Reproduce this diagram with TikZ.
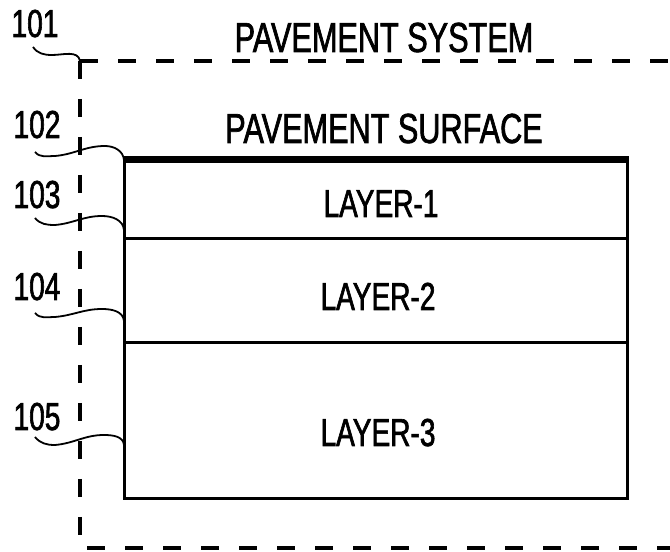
\documentclass[tikz,border=0pt]{standalone}
\usepackage{fontspec}
\setmainfont[FakeStretch=0.72,FakeBold=1.6]{Liberation Sans}
\newfontfamily\titlefont[FakeStretch=0.73,FakeBold=1.6]{Liberation Sans}
\begin{document}
\begin{tikzpicture}[x=1pt,y=1pt,
  lbl/.style={anchor=base,inner sep=0pt,font=\fontsize{39}{39}\selectfont},
  ttl/.style={anchor=base,inner sep=0pt,font=\titlefont\fontsize{42}{42}\selectfont},
  sysline/.style={line width=4pt,dash pattern=on 18pt off 20pt},
  boxline/.style={line width=3pt},
  leader/.style={line width=1.8pt}]
\useasboundingbox (0,0) rectangle (670,552);
% dashed system boundary
\coordinate (c1) at (80,491);
\coordinate (c2) at (672,491);
\coordinate (c3) at (80,4);
\coordinate (c4) at (672,4);
\draw[sysline] (c1) -- (c2);
\draw[sysline] (c1) -- (c3) -- (c4);
% layers box
\coordinate (bnw) at (124,392);
\coordinate (bne) at (627,392);
\coordinate (bsw) at (124,53);
\coordinate (bse) at (627,53);
\coordinate (d1w) at (124,313);
\coordinate (d1e) at (627,313);
\coordinate (d2w) at (124,209);
\coordinate (d2e) at (627,209);
\draw[boxline,line join=miter] (bnw) -- (bsw) -- (bse) -- (bne) -- cycle;
\draw[boxline] (d1w) -- (d1e);
\draw[boxline] (d2w) -- (d2e);
\draw[line width=7pt] ([xshift=-1.5pt]bnw) -- ([xshift=1.5pt]bne);
% texts
\node[ttl] (tsys) at (384,500) {PAVEMENT SYSTEM};
\node[ttl] (tsurf) at (384,409) {PAVEMENT SURFACE};
\node[lbl] (tl1) at (381,335) {LAYER-1};
\node[lbl] (tl2) at (378,242) {LAYER-2};
\node[lbl] (tl3) at (378,106) {LAYER-3};
\node[lbl] (n101) at (35,515) {101};
\node[lbl] (n102) at (37,414) {102};
\node[lbl] (n103) at (37,344) {103};
\node[lbl] (n104) at (37,252) {104};
\node[lbl] (n105) at (37,122) {105};
% leader lines
\coordinate (s101) at (33,505);
\coordinate (s102) at (35,400);
\coordinate (s103) at (35,334);
\coordinate (s104) at (35,239);
\coordinate (s105) at (35,115);
\coordinate (e103) at (124,322);
\coordinate (e104) at (124,231);
\coordinate (e105) at (124,107);
\draw[leader] (s101) to[out=-55,in=180] (52,497) to[out=0,in=100] (c1);
\draw[leader] (s102) to[out=-50,in=180] (55,396) to[out=5,in=180] (105,406) to[out=0,in=95] (bnw);
\draw[leader] (s103) to[out=-50,in=180] (55,327) to[out=5,in=180] (102,336) to[out=0,in=95] (e103);
\draw[leader] (s104) to[out=-50,in=180] (55,235) to[out=5,in=180] (102,243) to[out=0,in=95] (e104);
\draw[leader] (s105) to[out=-50,in=180] (55,107) to[out=5,in=180] (104,117) to[out=0,in=95] (e105);
\end{tikzpicture}
\end{document}
